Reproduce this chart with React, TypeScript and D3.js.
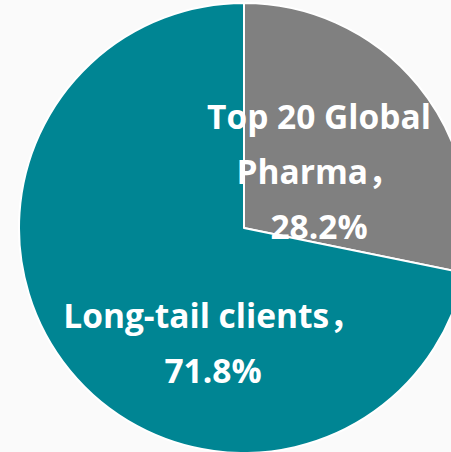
import React from "react";
import * as d3 from "d3";

const categories = ["Top 20 Global Pharma", "Long-tail clients"];
const values = [28.2, 71.8];
const colors = ["#808080", "#008593"];
// label lines per slice (text), with fullwidth comma as in source
const labelLines = [
  ["Top 20 Global", "Pharma，", "28.2%"],
  ["Long-tail clients，", "71.8%"],
];

const W = 451;
const H = 452;
const cx = 244;
const cy = 228;
const R = 225;
// label anchor (center x, first baseline y) relative to pie center
const labelAnchors = [
  { dx: 75, dy: -99 },
  { dx: -31, dy: 100 },
];
const linePitch = 55;

export default function App() {
  const pie = d3.pie<number>().sort(null).value((d) => d);
  const arcs = pie(values);
  const arc = d3.arc<d3.PieArcDatum<number>>().innerRadius(0).outerRadius(R);
  return (
    <svg
      width={W}
      height={H}
      style={{ position: "absolute", left: 0, top: 0, background: "#fafafa" }}
    >
      <rect width={W} height={H} fill="#fafafa" />
      <g transform={`translate(${cx},${cy})`}>
        {arcs.map((a, i) => (
          <path
            key={categories[i]}
            d={arc(a) || ""}
            fill={colors[i]}
            stroke="#ffffff"
            strokeWidth={2}
            strokeLinejoin="round"
          />
        ))}
        {labelLines.map((lines, i) => (
          <text
            key={i}
            textAnchor="middle"
            fill="#ffffff"
            fontFamily="'Open Sans', 'Noto Sans', 'Noto Sans CJK SC', sans-serif"
            fontWeight={700}
            fontSize={33.5}
          >
            {lines.map((t, j) => (
              <tspan
                key={j}
                x={labelAnchors[i].dx}
                y={labelAnchors[i].dy + j * linePitch}
              >
                {t}
              </tspan>
            ))}
          </text>
        ))}
      </g>
    </svg>
  );
}
